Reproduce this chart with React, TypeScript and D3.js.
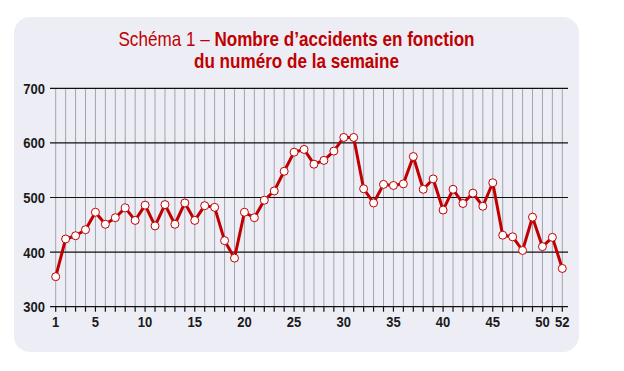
import React, { useEffect, useRef } from 'react';
import * as d3 from 'd3';

// weekly accident counts
const weeks = d3.range(1, 53);
const accidents = [
  355, 424, 430, 441, 473, 451, 463, 481, 458, 486,
  448, 487, 451, 490, 458, 485, 482, 421, 389, 473,
  463, 495, 512, 548, 583, 588, 561, 568, 585, 610,
  610, 516, 490, 524, 522, 525, 575, 515, 534, 477,
  515, 489, 508, 484, 527, 431, 428, 403, 464, 410,
  427, 370,
];
const yTicks = [300, 400, 500, 600, 700];
const xLabels = [1, 5, 10, 15, 20, 25, 30, 35, 40, 45, 50, 52];

const RED = '#c00000';
const FONT = '"Liberation Sans", Arial, sans-serif';
const SQUEEZE = 0.84; // fake a condensed face
const TITLE_SQUEEZE = 0.855;

const App = () => {
  const svgRef = useRef(null);

  useEffect(() => {
    const svg = d3.select(svgRef.current);
    svg.selectAll('*').remove();

    // plot area
    const left = 50, right = 568;
    const top = 88.3, bottom = 306.7;

    const x = d3.scaleLinear().domain([1, 52]).range([55.7, 562.3]);
    const y = d3.scaleLinear().domain([300, 700]).range([bottom, top]);

    // panel
    svg.append('rect')
      .attr('x', 14).attr('y', 17)
      .attr('width', 565).attr('height', 335)
      .attr('rx', 16)
      .attr('fill', '#ededf5');

    // title
    const title = svg.append('text')
      .attr('transform', `translate(296.5,46) scale(${TITLE_SQUEEZE},1)`)
      .attr('text-anchor', 'middle')
      .attr('fill', RED)
      .style('font-family', FONT)
      .style('font-size', '20px');
    title.append('tspan').text('Schéma 1 – ');
    title.append('tspan').attr('font-weight', 'bold').text('Nombre d’accidents en fonction');

    svg.append('text')
      .attr('transform', `translate(296.5,68) scale(${TITLE_SQUEEZE},1)`)
      .attr('text-anchor', 'middle')
      .attr('fill', RED)
      .attr('font-weight', 'bold')
      .style('font-family', FONT)
      .style('font-size', '20px')
      .text('du numéro de la semaine');

    // vertical grid
    svg.append('g')
      .selectAll('line')
      .data(weeks)
      .join('line')
      .attr('x1', d => x(d)).attr('x2', d => x(d))
      .attr('y1', top).attr('y2', bottom)
      .attr('stroke', '#a3a3ad')
      .attr('stroke-width', 1);

    // horizontal grid
    svg.append('g')
      .selectAll('line')
      .data(yTicks)
      .join('line')
      .attr('x1', left).attr('x2', right)
      .attr('y1', d => y(d)).attr('y2', d => y(d))
      .attr('stroke', '#111')
      .attr('stroke-width', 1.2);

    // bottom ticks
    svg.append('g')
      .selectAll('line')
      .data(weeks)
      .join('line')
      .attr('x1', d => x(d)).attr('x2', d => x(d))
      .attr('y1', bottom).attr('y2', bottom + 5)
      .attr('stroke', '#111')
      .attr('stroke-width', 1.2);

    // y labels
    svg.append('g')
      .selectAll('text')
      .data(yTicks)
      .join('text')
      .attr('transform', d => `translate(45,${y(d) + 5.5}) scale(${SQUEEZE},1)`)
      .attr('text-anchor', 'end')
      .attr('font-weight', 'bold')
      .attr('fill', '#1a1a1a')
      .style('font-family', FONT)
      .style('font-size', '15.5px')
      .text(d => d);

    // x labels
    svg.append('g')
      .selectAll('text')
      .data(xLabels)
      .join('text')
      .attr('transform', d => `translate(${x(d)},${bottom + 20.5}) scale(${SQUEEZE},1)`)
      .attr('text-anchor', 'middle')
      .attr('font-weight', 'bold')
      .attr('fill', '#1a1a1a')
      .style('font-family', FONT)
      .style('font-size', '15.5px')
      .text(d => d);

    const pts = weeks.map((w, i) => [w, accidents[i]]);

    const line = d3.line()
      .x(d => x(d[0]))
      .y(d => y(d[1]));

    svg.append('path')
      .datum(pts)
      .attr('fill', 'none')
      .attr('stroke', RED)
      .attr('stroke-width', 3)
      .attr('stroke-linejoin', 'round')
      .attr('d', line);

    svg.append('g')
      .selectAll('circle')
      .data(pts)
      .join('circle')
      .attr('cx', d => x(d[0]))
      .attr('cy', d => y(d[1]))
      .attr('r', 4)
      .attr('fill', '#fff')
      .attr('stroke', RED)
      .attr('stroke-width', 1);
  }, []);

  return (
    <svg
      ref={svgRef}
      width={624}
      height={371}
      style={{ position: 'absolute', left: 0, top: 0, background: '#fff' }}
    />
  );
};

export default App;
